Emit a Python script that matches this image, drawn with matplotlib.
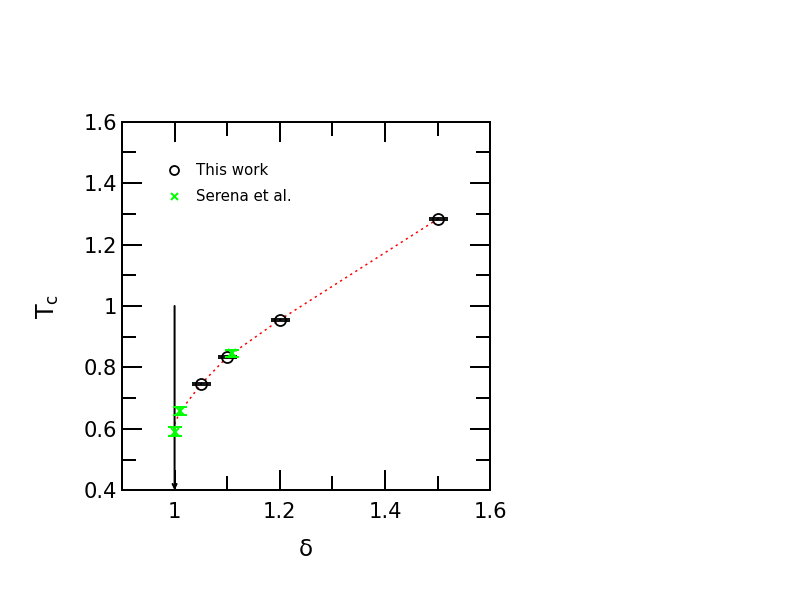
import matplotlib.pyplot as plt

# This work (black circles)
delta_this = [1.05, 1.1, 1.2, 1.5]
tc_this = [0.745, 0.834, 0.955, 1.283]
err_this = [0.003, 0.003, 0.003, 0.003]

# Serena et al. (green crosses)
delta_serena = [1.0, 1.01, 1.11]
tc_serena = [0.591, 0.658, 0.846]
err_serena = [0.015, 0.013, 0.012]

# red dotted guide line
delta_line = [1.0, 1.01, 1.05, 1.1, 1.2, 1.5]
tc_line = [0.615, 0.655, 0.745, 0.834, 0.955, 1.283]

fig = plt.figure(figsize=(11, 8.5), dpi=72)
ax = fig.add_axes([0.154, 0.199, 0.465, 0.602])

ax.plot(delta_line, tc_line, color='red', linestyle=(0, (1.5, 2.5)), linewidth=1.5, zorder=2)

ax.errorbar(delta_this, tc_this, yerr=err_this, fmt='o', color='black', mfc='none',
            markersize=11, mew=1.8, capsize=9.5, capthick=2, elinewidth=2, zorder=3)
ax.errorbar(delta_serena, tc_serena, yerr=err_serena, fmt='x', color='#00ff00',
            markersize=8, mew=2, capsize=7, capthick=2.5, elinewidth=2, zorder=4)

# arrow at delta = 1
ax.annotate('', xy=(1.0, 0.4), xytext=(1.0, 1.0),
            arrowprops=dict(arrowstyle='->', color='black', lw=2,
                            shrinkA=0, shrinkB=0, mutation_scale=10))

# legend handles
h1, = ax.plot([], [], 'o', color='black', mfc='none', markersize=9, mew=1.8)
h2, = ax.plot([], [], 'x', color='#00ff00', markersize=7, mew=2)
ax.legend([h1, h2], ['This work', 'Serena et al.'], loc='upper left',
          bbox_to_anchor=(0.08, 0.925), frameon=False, fontsize=15,
          handletextpad=0.9, labelspacing=0.75, handlelength=1.2)

ax.set_xlim(0.9, 1.6)
ax.set_ylim(0.4, 1.6)
ax.set_xticks([1.0, 1.2, 1.4, 1.6])
ax.set_xticklabels(['1', '1.2', '1.4', '1.6'])
ax.set_xticks([1.1, 1.3, 1.5], minor=True)
ax.set_yticks([0.4, 0.6, 0.8, 1.0, 1.2, 1.4, 1.6])
ax.set_yticklabels(['0.4', '0.6', '0.8', '1', '1.2', '1.4', '1.6'])
ax.set_yticks([0.5, 0.7, 0.9, 1.1, 1.3, 1.5], minor=True)

ax.tick_params(which='both', direction='in', top=True, right=True, width=2, labelsize=21)
ax.tick_params(axis='x', pad=12)
ax.tick_params(axis='y', pad=5)
ax.tick_params(which='major', length=20)
ax.tick_params(which='minor', length=14)
for s in ax.spines.values():
    s.set_linewidth(2)

ax.set_xlabel('δ', fontsize=23, labelpad=16)
ax.set_ylabel(r'$\mathregular{T_c}$', fontsize=24, labelpad=22)

fig.savefig('out.png', dpi=72)
